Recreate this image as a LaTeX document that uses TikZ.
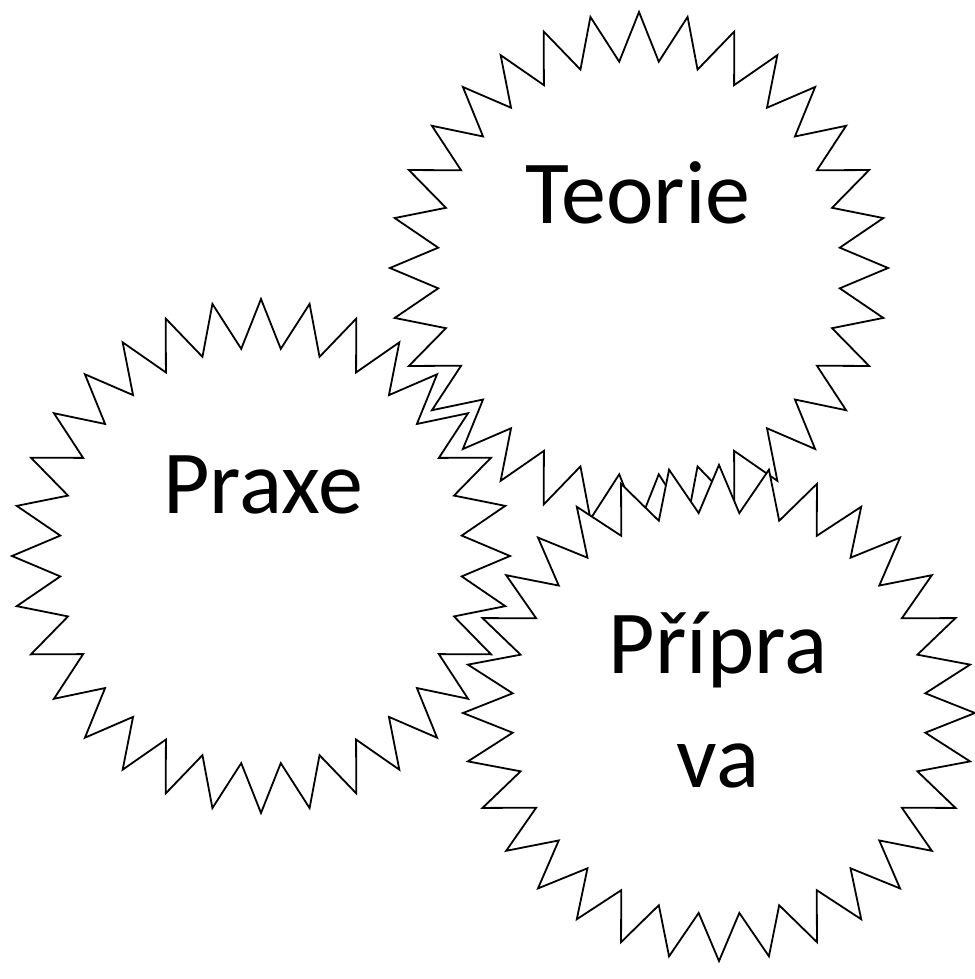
\documentclass[tikz,border=0pt]{standalone}
\usepackage{fontspec}
\setmainfont{Carlito}
\usetikzlibrary{shapes.geometric}
\tikzset{
  burst/.style={star, star points=32, star point ratio=1.235, draw=black, fill=white,
    line width=1.8pt, line join=miter, inner sep=0pt},
  label/.style={font=\fontsize{90}{114}\selectfont, inner sep=0pt, align=center}
}
\begin{document}
\begin{tikzpicture}[x=1pt,y=1pt]
\useasboundingbox (0,0) rectangle (974,-979);
\node[burst, minimum size=512pt, xscale=0.973] (teorieS) at (639,-268) {};
\node[burst, minimum size=514pt, xscale=0.969] (praxeS) at (261,-556) {};
\node[burst, minimum size=512pt, yscale=0.969] (pripravaS) at (719,-713) {};
\node[label, anchor=base] (teorie) at (638,-223) {Teorie};
\node[label, anchor=base] (praxe) at (263,-513) {Praxe};
\node[label, anchor=base] (priprava1) at (718,-673) {Přípra};
\node[label, anchor=base] (priprava2) at (718,-787) {va};
\end{tikzpicture}
\end{document}
